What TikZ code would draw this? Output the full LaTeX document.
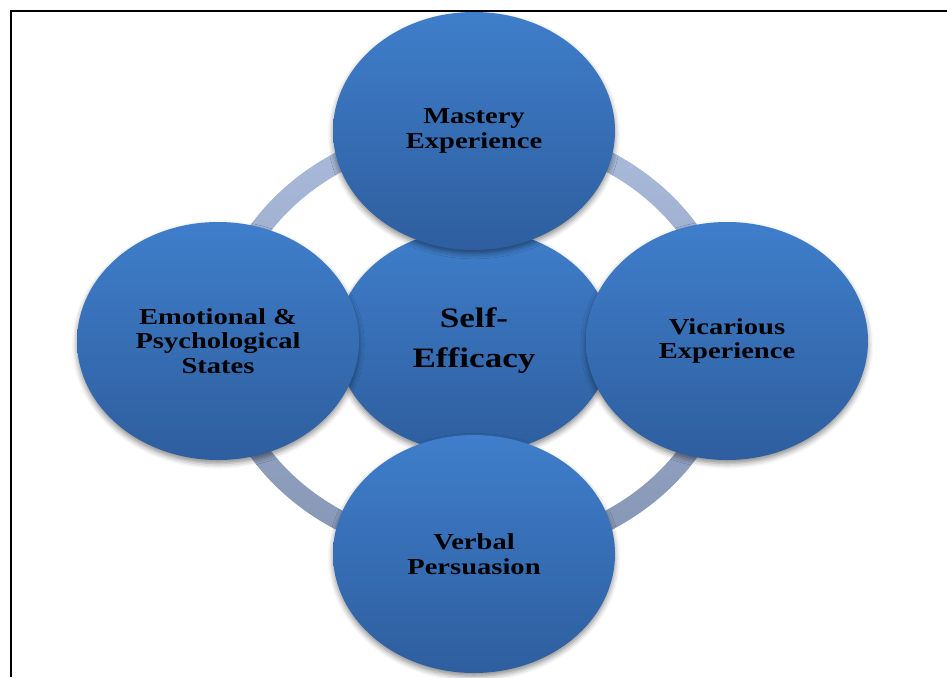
\documentclass[tikz,border=0pt]{standalone}
\usepackage{xcolor}
\usepackage{fontspec}
\setmainfont{Liberation Serif}[FakeStretch=1.25]
\usepackage{tikz}
\usetikzlibrary{shapes.geometric, shadows.blur}

\definecolor{bubbletop}{RGB}{63,126,203}
\definecolor{bubblebottom}{RGB}{46,94,158}
\definecolor{ringtop}{RGB}{171,187,219}
\definecolor{ringbottom}{RGB}{133,149,180}

\tikzstyle{bubble} = [ellipse,
    inner sep=0pt,
    top color=bubbletop,
    bottom color=bubblebottom,
    align=center,
    text=black,
    blur shadow={shadow xshift=0pt, shadow yshift=-2pt,
        shadow blur radius=3pt, shadow opacity=45}]
\tikzstyle{source} = [bubble,
    minimum width=5.64cm,
    minimum height=4.76cm,
    font=\fontsize{13}{13.9}\selectfont\bfseries]
\tikzstyle{core} = [bubble,
    minimum width=5.48cm,
    minimum height=4.48cm,
    font=\fontsize{16}{22.8}\selectfont\bfseries]

\begin{document}
\begin{tikzpicture}
        \useasboundingbox (0,0) rectangle (18.94,-13.54);

        % frame
        \draw[line width=1.2pt] (0.22,-13.54) |- (18.94,-0.22);

        % ring behind the bubbles
        \shade[even odd rule, top color=ringtop, bottom color=ringbottom]
            (9.48,-6.82) ellipse [x radius=5.24cm, y radius=4.44cm]
            (9.48,-6.82) ellipse [x radius=4.84cm, y radius=4.04cm];

        \node (self_efficacy) [core] at (9.48,-6.82) {Self-\\Efficacy};
        \node (mastery) [source, node distance=4.2cm, above of=self_efficacy] {Mastery\\Experience};
        \node (vicarious) [source, node distance=5.06cm, right of=self_efficacy] {Vicarious\\Experience};
        \node (verbal) [source, node distance=4.26cm, below of=self_efficacy] {Verbal\\Persuasion};
        \node (emotional) [source, node distance=5.12cm, left of=self_efficacy] {Emotional \&\\Psychological\\States};
    \end{tikzpicture}
\end{document}
